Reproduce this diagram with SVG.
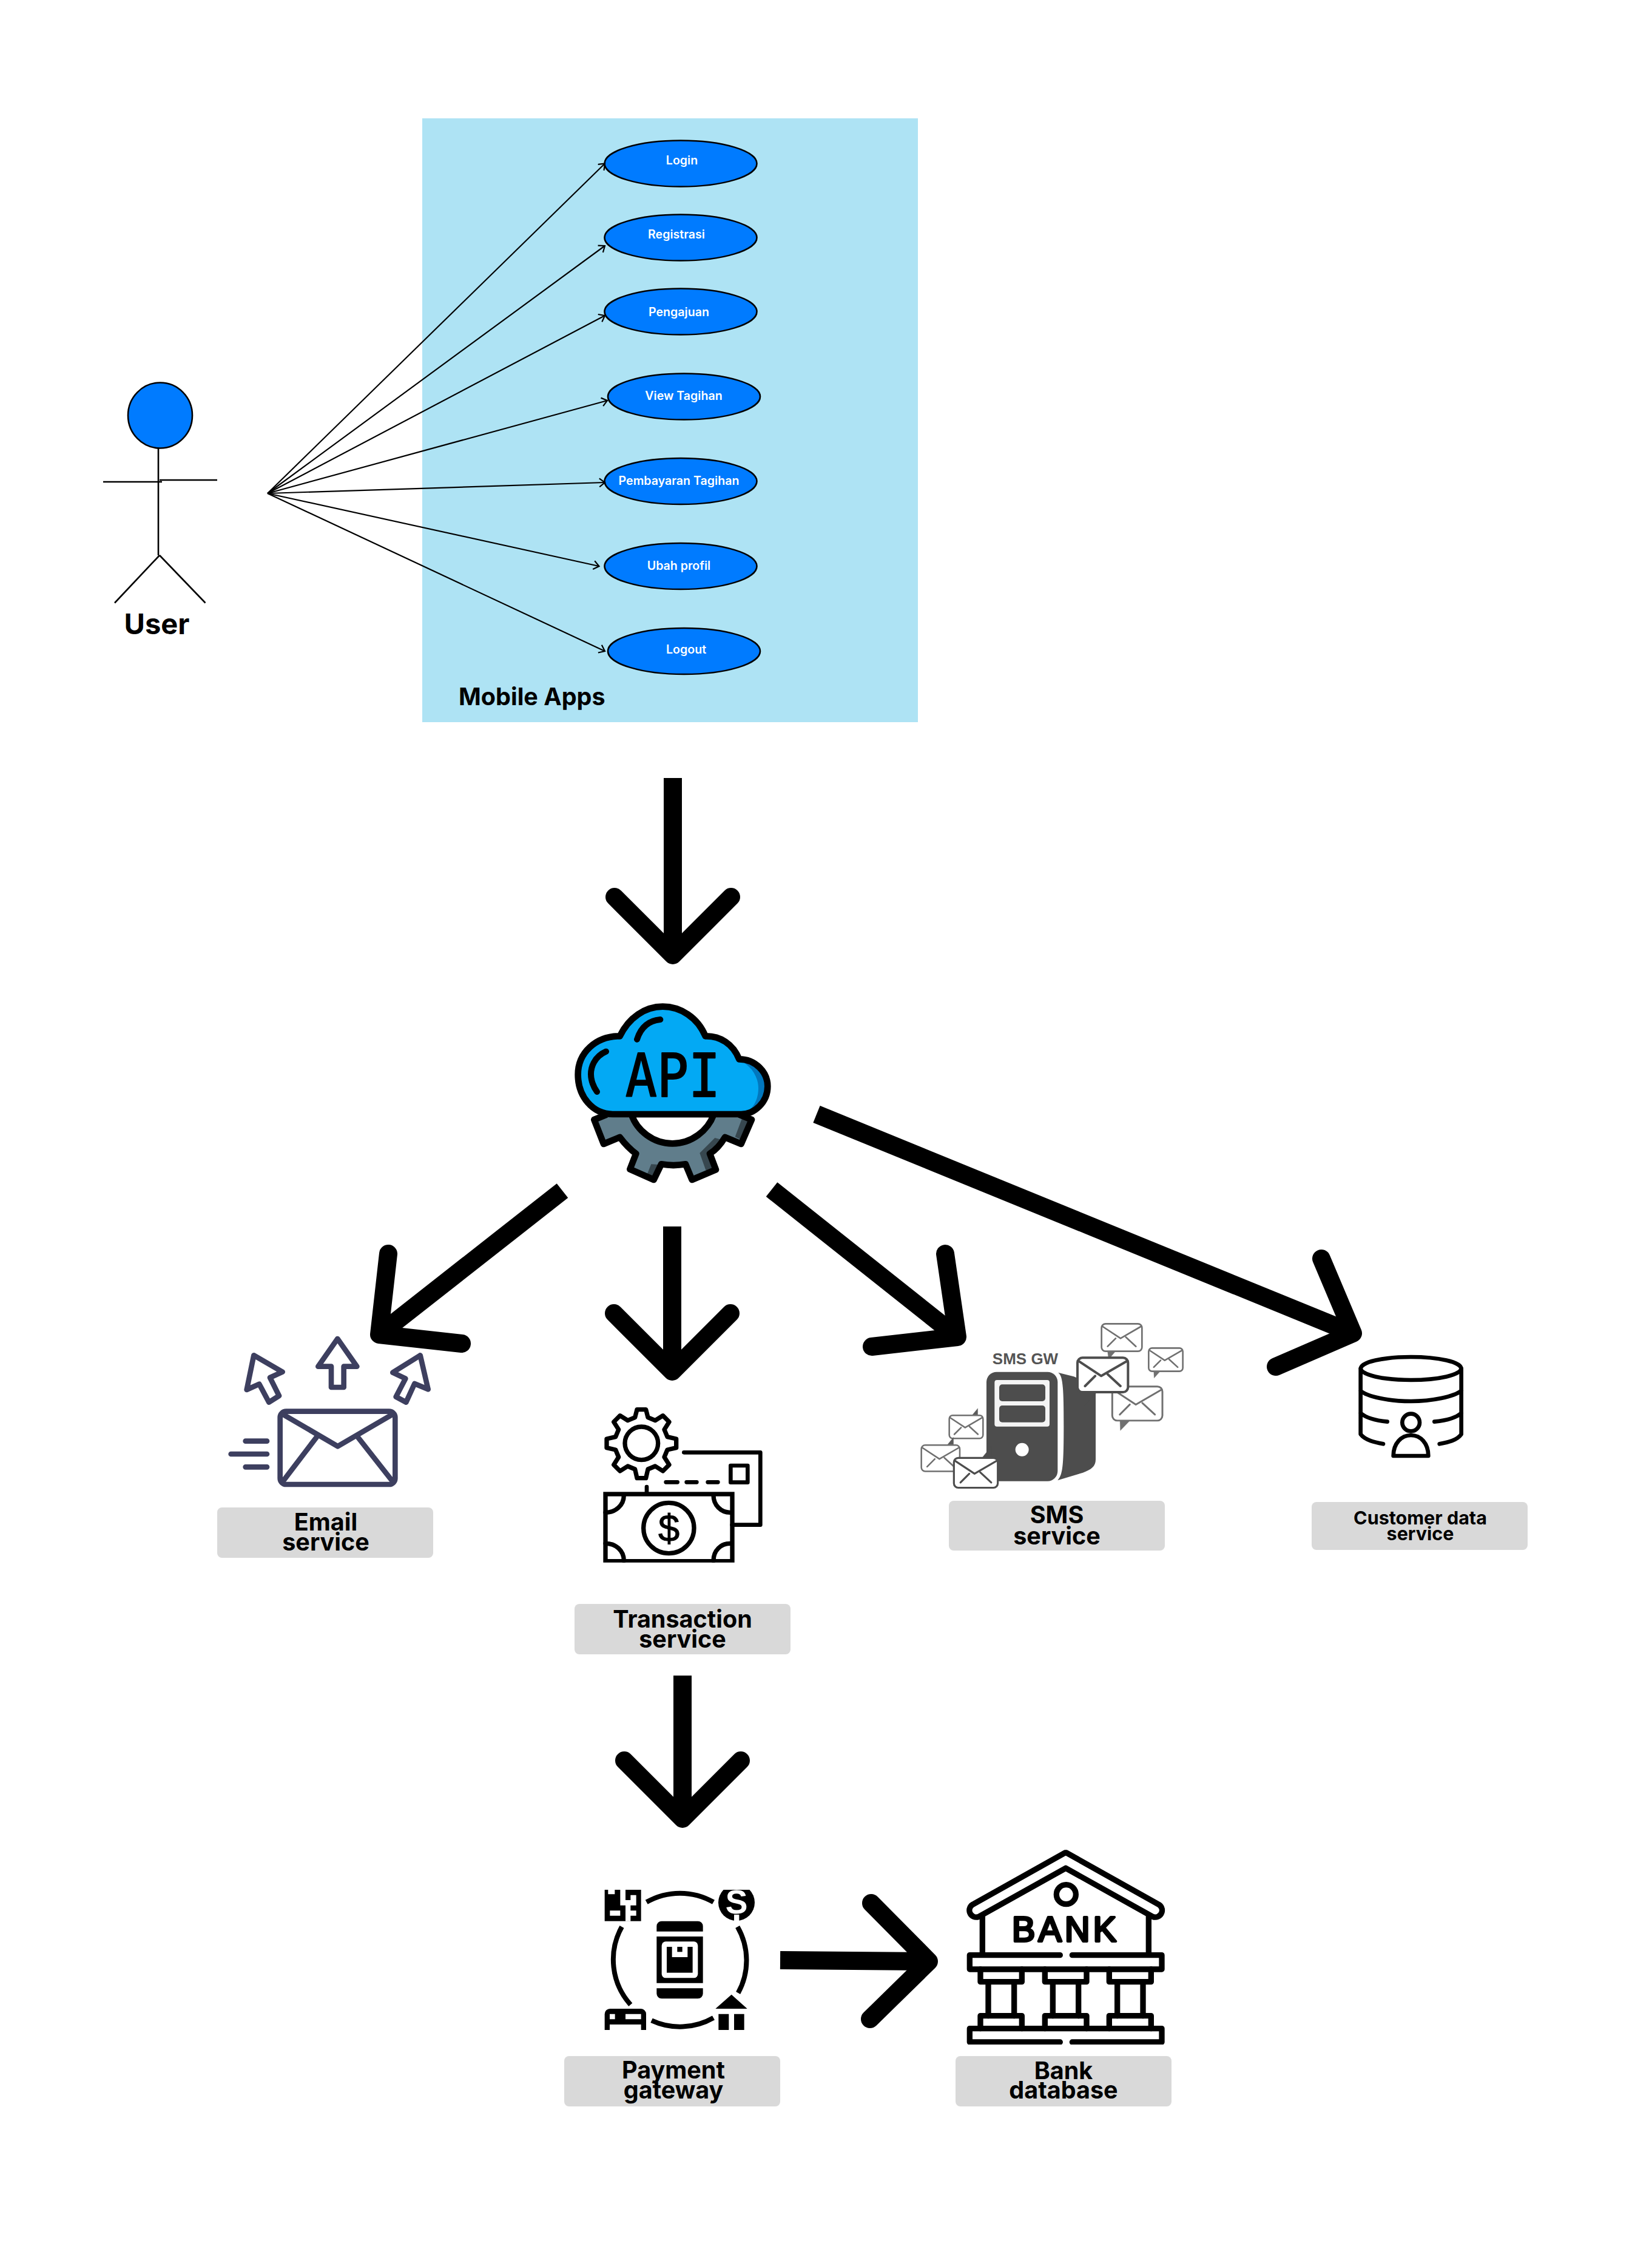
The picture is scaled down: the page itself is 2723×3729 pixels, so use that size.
<svg xmlns="http://www.w3.org/2000/svg" xmlns:xlink="http://www.w3.org/1999/xlink" width="2723" height="3729" viewBox="0 0 2723 3729">
<style>
.uc{fill:#007bff;stroke:#000;stroke-width:2.6}
.ut{font-family:Inter,"Liberation Sans",sans-serif;font-weight:600;font-size:19.6px;fill:#fff;text-anchor:middle;dominant-baseline:central}
.act{stroke:#000;stroke-width:2.6;fill:none}
.thin{stroke:#000;stroke-width:2.2;fill:none;marker-end:url(#open)}
.big{stroke:#000;stroke-width:30;fill:none;stroke-linejoin:round;stroke-linecap:round}
.shaft{stroke:#000;stroke-width:30;fill:none}
.lb{fill:#d9d9d9}
.lt{font-family:Inter,"Liberation Sans",sans-serif;font-weight:700;font-size:39.5px;fill:#000;text-anchor:middle}
.k{fill:none;stroke:#000;stroke-linecap:round;stroke-linejoin:round}
.e{fill:none;stroke:#3d3f5f;stroke-width:26;stroke-linecap:round;stroke-linejoin:round}
.env{fill:#fff;stroke-linejoin:round;stroke-linecap:round}
</style>
<defs>
<marker id="open" markerUnits="userSpaceOnUse" markerWidth="16" markerHeight="16" refX="12" refY="8" orient="auto"><path d="M3,1 L12,8 L3,15" fill="none" stroke="#000" stroke-width="2.2"/></marker>
<g id="envg"><rect x="0" y="0" width="100" height="68" rx="10"/><path d="M3,7 L47,36 L97,7 M15,56 L35,36 M85,56 L60,33" fill="none"/></g>
<clipPath id="payclip"><rect x="100" y="102" width="760" height="693"/></clipPath>
<clipPath id="bankclip"><rect x="90" y="85" width="1000" height="962"/></clipPath>
<clipPath id="txclip"><rect x="150" y="117" width="810" height="767"/></clipPath>
</defs>

<rect id="mobile-apps-panel" x="696" y="195" width="817" height="995" fill="#aee3f4"/>

<g id="user">
<ellipse cx="264" cy="684.5" rx="53" ry="54" class="uc"/>
<path class="act" d="M261,738 V915 M170,794 H267 M263,791 H358 M263,915 L189,993.5 M263,915 L338.5,993.5"/>
<text x="258.5" y="1045" style="font-family:Inter,'Liberation Sans',sans-serif;font-weight:700;font-size:47px;text-anchor:middle">User</text>
</g>
<text id="mobile-apps-label" x="756" y="1162" style="font-family:Inter,'Liberation Sans',sans-serif;font-weight:700;font-size:39.5px">Mobile Apps</text>

<g id="uc-login"><ellipse cx="1122" cy="269.5" rx="125.5" ry="38" class="uc"/><text x="1124" y="264" class="ut">Login</text></g>
<g id="uc-registrasi"><ellipse cx="1122" cy="391.5" rx="125.5" ry="38" class="uc"/><text x="1115" y="386" class="ut">Registrasi</text></g>
<g id="uc-pengajuan"><ellipse cx="1122" cy="513.5" rx="125.5" ry="38" class="uc"/><text x="1119" y="514" class="ut">Pengajuan</text></g>
<g id="uc-view"><ellipse cx="1127.5" cy="653.5" rx="125.5" ry="38" class="uc"/><text x="1127" y="652" class="ut">View Tagihan</text></g>
<g id="uc-pembayaran"><ellipse cx="1122" cy="793" rx="125.5" ry="38" class="uc"/><text x="1119" y="792" class="ut">Pembayaran Tagihan</text></g>
<g id="uc-ubah"><ellipse cx="1122" cy="933" rx="125.5" ry="38" class="uc"/><text x="1119" y="932" class="ut">Ubah profil</text></g>
<g id="uc-logout"><ellipse cx="1127.5" cy="1073" rx="125.5" ry="38" class="uc"/><text x="1131" y="1070" class="ut">Logout</text></g>

<g id="connectors">
<path class="thin" d="M441,813 L997,269.5"/>
<path class="thin" d="M441,813 L997,405"/>
<path class="thin" d="M441,813 L997,520"/>
<path class="thin" d="M441,813 L1001,660"/>
<path class="thin" d="M441,813 L997,795"/>
<path class="thin" d="M441,813 L987.5,933"/>
<path class="thin" d="M441,813 L997,1073"/>

<path class="shaft" d="M1109,1282 V1574"/><path class="big" d="M1013,1478 L1109,1574 L1205,1478"/>
<path class="shaft" d="M927,1962 L625,2199"/><path class="big" d="M640,2066 L625,2199 L761,2214"/>
<path class="shaft" d="M1108,2021 V2260"/><path class="big" d="M1012,2164 L1108,2260 L1204,2164"/>
<path class="shaft" d="M1272,1960 L1578,2203"/><path class="big" d="M1558,2066 L1578,2203 L1437,2219"/>
<path class="shaft" d="M1346,1836 L2230,2197"/><path class="big" d="M2178,2074 L2230,2197 L2103,2252"/>
<path class="shaft" d="M1125,2761 V2997"/><path class="big" d="M1029,2901 L1125,2997 L1221,2901"/>
<path class="shaft" d="M1286,3230 L1531,3232"/><path class="big" d="M1436,3136 L1531,3232 L1434,3327"/>
</g>

<g id="api" transform="translate(900 1620) scale(.33333)">
<path d="M300,650 L238,675 L285,795 L365,762 C390,795 420,825 445,843 L415,920 L533,972 L570,895 C610,902 650,902 690,895 L722,972 L840,922 L810,843 C840,825 865,795 885,762 L965,795 L1017,675 L955,650 Z" fill="#607d8b"/>
<path d="M968,672 L1000,680 L965,775 L935,760 Z M835,765 L860,772 L800,845 L825,920 L790,925 L760,840 Z M520,895 L555,897 L530,957 L500,945 Z" fill="#37474f"/>
<path d="M300,650 L238,675 L285,795 L365,762 C390,795 420,825 445,843 L415,920 L533,972 L570,895 C610,902 650,902 690,895 L722,972 L840,922 L810,843 C840,825 865,795 885,762 L965,795 L1017,675 L955,650" fill="none" stroke="#000" stroke-width="32" stroke-linejoin="round"/>
<path d="M422,648 C450,730 530,793 625,793 C720,793 800,730 830,648 Z" fill="#fff" stroke="#000" stroke-width="32"/>
<path d="M330,648 C230,648 158,560 158,452 C158,345 245,262 365,262 C410,170 490,116 577,116 C665,116 750,170 788,262 C860,260 925,300 955,376 C1035,376 1096,440 1096,510 C1096,590 1030,648 965,648 Z" fill="#03a9f4"/>
<path d="M945,378 C1035,376 1096,440 1096,510 C1096,590 1030,648 965,648 C1010,640 1050,590 1050,520 C1050,450 1000,395 945,378 Z M790,262 C860,260 925,300 955,376 L940,376 C920,320 885,285 790,272 Z M700,170 C740,195 765,230 788,262 L772,262 C750,220 730,190 700,170 Z" fill="#0277bd"/>
<path d="M330,648 C230,648 158,560 158,452 C158,345 245,262 365,262 C410,170 490,116 577,116 C665,116 750,170 788,262 C860,260 925,300 955,376 C1035,376 1096,440 1096,510 C1096,590 1030,648 965,648 Z" fill="none" stroke="#000" stroke-width="32" stroke-linejoin="round"/>
<path d="M565,180 C510,185 470,215 450,278 M297,338 C235,365 222,420 222,450 C222,480 235,515 252,537" fill="none" stroke="#000" stroke-width="30" stroke-linecap="round"/>
<text x="392" y="561" textLength="470" lengthAdjust="spacingAndGlyphs" style="font-family:'DejaVu Sans Mono',monospace;font-size:296px;stroke:#000;stroke-width:6;stroke-linejoin:round">API</text>
</g>

<g id="email-service">
<g transform="translate(340 2150) scale(.33333)">
<rect x="365" y="527" width="569" height="361" rx="30" class="e"/>
<path class="e" d="M385,545 L650,700 L915,545 M545,655 L385,865 M750,655 L915,865 M194,674 H300 M122,738 H300 M194,802 H300"/>
<path class="e" d="M649,168 L745,305 L680,305 L680,408 L618,408 L618,305 L553,305 Z"/>
<path class="e" d="M235,250 L377,332 L315,360 L360,450 L310,482 L262,392 L200,420 Z"/>
<path class="e" d="M1058,250 L922,335 L985,365 L938,455 L988,482 L1030,390 L1097,418 Z"/>
</g>
<rect x="358" y="2484" width="356" height="83" rx="8" class="lb"/>
<text class="lt"><tspan x="537" y="2522">Email</tspan><tspan x="537" y="2555">service</tspan></text>
</g>

<g id="transaction-service">
<g transform="translate(940 2280) scale(.33333)" clip-path="url(#txclip)">
<path class="k" stroke-width="22" d="M320,167 L330,128 L374,128 L384,167 L420,182 L458,158 L489,189 L465,227 L480,263 L524,273 L524,317 L480,327 L465,363 L489,401 L458,432 L420,408 L384,423 L374,467 L330,467 L320,423 L284,408 L246,432 L215,401 L239,363 L224,327 L180,317 L180,273 L224,263 L239,227 L215,189 L246,158 L284,182 Z"/>
<circle cx="352" cy="295" r="82" class="k" stroke-width="22"/>
<path class="k" stroke-width="20" d="M562,340 H940 V698 H800 M473,487 H530 M575,487 H625 M680,487 H730 M378,510 V545"/>
<rect x="793" y="405" width="84" height="83" class="k" stroke-width="20"/>
<rect x="174" y="546" width="627" height="332" fill="none" stroke="#000" stroke-width="22"/>
<path class="k" stroke-width="22" d="M174,637 C225,637 265,600 265,552 M790,637 C745,637 708,600 708,552 M174,790 C225,790 265,825 265,875 M790,790 C745,790 708,825 708,875"/>
<circle cx="487" cy="714" r="125" class="k" stroke-width="22"/>
<text x="488" y="780" style="font-family:'Liberation Sans',sans-serif;font-size:190px;text-anchor:middle;stroke:#000;stroke-width:3">$</text>
</g>
<rect x="947" y="2643" width="356" height="83" rx="8" class="lb"/>
<text class="lt"><tspan x="1125" y="2682">Transaction</tspan><tspan x="1125" y="2715">service</tspan></text>
</g>

<g id="sms-service">
<g transform="translate(1490 2150) scale(.33333)">
<text x="600" y="295" style="font-family:'Liberation Sans',sans-serif;font-weight:700;font-size:78px;fill:#555;text-anchor:middle">SMS GW</text>
<rect x="408" y="332" width="352" height="540" rx="50" fill="#4d4d4d"/>
<rect x="448" y="372" width="272" height="230" rx="12" fill="#f4f4f4"/>
<rect x="471" y="394" width="228" height="83" rx="15" fill="#4d4d4d"/>
<rect x="471" y="498" width="228" height="83" rx="15" fill="#4d4d4d"/>
<circle cx="584" cy="716" r="33" fill="#fff"/>
<path d="M762,335 C785,350 790,400 790,600 C790,800 785,840 760,868 L885,830 C925,815 948,800 948,765 L948,400 L840,355 Z" fill="#4d4d4d"/>
<g stroke="#707070" class="env">
<path d="M1068,570 L1070,622 L1115,575 Z" fill="#707070"/>
<use xlink:href="#envg" href="#envg" transform="translate(1030 404) scale(2.48)" stroke-width="3.6"/>
<path d="M1006,225 L1012,270 L1048,228 Z" fill="#707070"/>
<use xlink:href="#envg" href="#envg" transform="translate(977 94) scale(2)" stroke-width="4"/>
<path d="M1235,325 L1237,362 L1268,328 Z" fill="#707070"/>
<use xlink:href="#envg" href="#envg" transform="translate(1210 214) scale(1.69)" stroke-width="4.6"/>
</g>
<g stroke="#4d4d4d" class="env">
<path d="M890,425 L890,500 L948,440 Z" fill="#4d4d4d"/>
<use xlink:href="#envg" href="#envg" transform="translate(858 262) scale(2.5)" stroke-width="4.8"/>
</g>
<g stroke="#707070" class="env">
<path d="M335,548 L365,512 L365,550 Z" fill="#5a5a5a"/>
<use xlink:href="#envg" href="#envg" transform="translate(224 547) scale(1.67)" stroke-width="4.6"/>
<path d="M212,695 L245,655 L245,695 Z" fill="#5a5a5a"/>
<use xlink:href="#envg" href="#envg" transform="translate(86 694) scale(1.9)" stroke-width="4"/>
</g>
<g stroke="#4d4d4d" class="env">
<path d="M385,758 L432,700 L432,758 Z" fill="#4d4d4d"/>
<use xlink:href="#envg" href="#envg" transform="translate(247 757) scale(2.17)" stroke-width="4.4"/>
</g>
</g>
<rect x="1564" y="2473" width="356" height="82" rx="8" class="lb"/>
<text class="lt"><tspan x="1742" y="2510">SMS</tspan><tspan x="1742" y="2545">service</tspan></text>
</g>

<g id="customer-data-service">
<g transform="translate(2130 2200) scale(.33333)">
<ellipse cx="587" cy="165" rx="248" ry="57" class="k" stroke-width="20"/>
<path class="k" stroke-width="20" d="M338,165 V490 C360,520 410,530 450,538 M836,165 V490 C815,520 770,530 728,538 M338,275 C370,305 480,327 587,327 C690,327 800,305 836,275 M338,385 C365,410 410,422 470,428 M836,385 C810,410 760,422 703,428"/>
<circle cx="587" cy="432" r="43" class="k" stroke-width="20"/>
<path class="k" stroke-width="20" d="M500,597 C500,535 540,495 587,495 C635,495 673,535 673,597 Z"/>
</g>
<rect x="2162" y="2475" width="356" height="79" rx="8" class="lb"/>
<text class="lt" style="font-size:30.5px"><tspan x="2341" y="2512">Customer data</tspan><tspan x="2341" y="2538">service</tspan></text>
</g>

<g id="payment-gateway">
<g transform="translate(960 3080) scale(.33333)" clip-path="url(#payclip)">
<path fill="none" stroke="#000" stroke-width="24" d="M317,163 A333,333 0 0 1 648,163 M195,285 A333,333 0 0 0 238,670 M767,285 A333,333 0 0 1 770,612 M342,748 A333,333 0 0 0 648,735"/>
<path d="M367,282 A25,25 0 0 1 392,257 H571 A25,25 0 0 1 596,282 V308 H367 Z M367,589 H596 V615 A25,25 0 0 1 571,640 H392 A25,25 0 0 1 367,615 Z M367,333 H596 V563 H367 Z" fill="#000"/>
<rect x="392" y="358" width="179" height="180" rx="20" fill="#fff"/>
<rect x="417" y="384" width="128" height="128"/>
<rect x="443" y="384" width="77" height="51" fill="#fff"/>
<rect x="469" y="384" width="25" height="25"/>
<rect x="110" y="102" width="180" height="155"/>
<path d="M127,102 H160 V124 H127 Z M187,102 H213 V153 H187 Z M238,128 H266 V153 H238 Z M187,153 H266 V179 H187 Z M136,205 H187 V230 H136 Z M213,179 H238 V257 H213 Z M238,205 H266 V230 H238 Z" fill="#fff"/>
<circle cx="762" cy="165" r="90"/>
<text x="762" y="218" style="font-family:'Liberation Sans',sans-serif;font-weight:700;font-size:165px;fill:#fff;text-anchor:middle">S</text>
<rect x="750" y="225" width="25" height="32" fill="#fff"/>
<path d="M110,716 A26,26 0 0 1 136,690 H290 A26,26 0 0 1 315,716 V795 H110 Z"/>
<path d="M135,716 H161 V742 H135 Z M213,716 H290 V742 H213 Z M135,768 H290 V795 H135 Z" fill="#fff"/>
<path d="M737,620 L815,690 H658 Z M673,716 H724 V795 H673 Z M750,716 H800 V795 H750 Z"/>
</g>
<rect x="930" y="3388" width="356" height="83" rx="8" class="lb"/>
<text class="lt"><tspan x="1110" y="3425">Payment</tspan><tspan x="1110" y="3458">gateway</tspan></text>
</g>

<g id="bank-database">
<g transform="translate(1560 3020) scale(.33333)" clip-path="url(#bankclip)">
<g class="k" stroke-width="28">
<path d="M590,97 L1045,352 A32,32 0 0 1 1020,415 L590,175 L160,415 A32,32 0 0 1 135,352 Z"/>
<path d="M178,415 V600 M1000,415 V600"/>
<circle cx="592" cy="305" r="48"/>
<path d="M562,605 H115 V675 H1065 V605 H622"/>
<path d="M168,675 V737 H373 V675 M487,675 V737 H693 V675 M805,675 V737 H1012 V675"/>
<path d="M207,737 V905 M335,737 V905 M526,737 V905 M653,737 V905 M845,737 V905 M972,737 V905"/>
<path d="M168,968 V905 H373 V968 M487,968 V905 H693 V968 M805,968 V905 H1012 V968"/>
<path d="M562,1035 H115 V968 H1065 V1035 H622"/>
</g>
<text x="590" y="538" style="font-family:'Liberation Sans',sans-serif;font-size:172px;letter-spacing:16px;text-anchor:middle;stroke:#000;stroke-width:12;stroke-linejoin:round">BANK</text>
</g>
<rect x="1575" y="3388" width="356" height="83" rx="8" class="lb"/>
<text class="lt"><tspan x="1753" y="3426">Bank</tspan><tspan x="1753" y="3458">database</tspan></text>
</g>
</svg>
